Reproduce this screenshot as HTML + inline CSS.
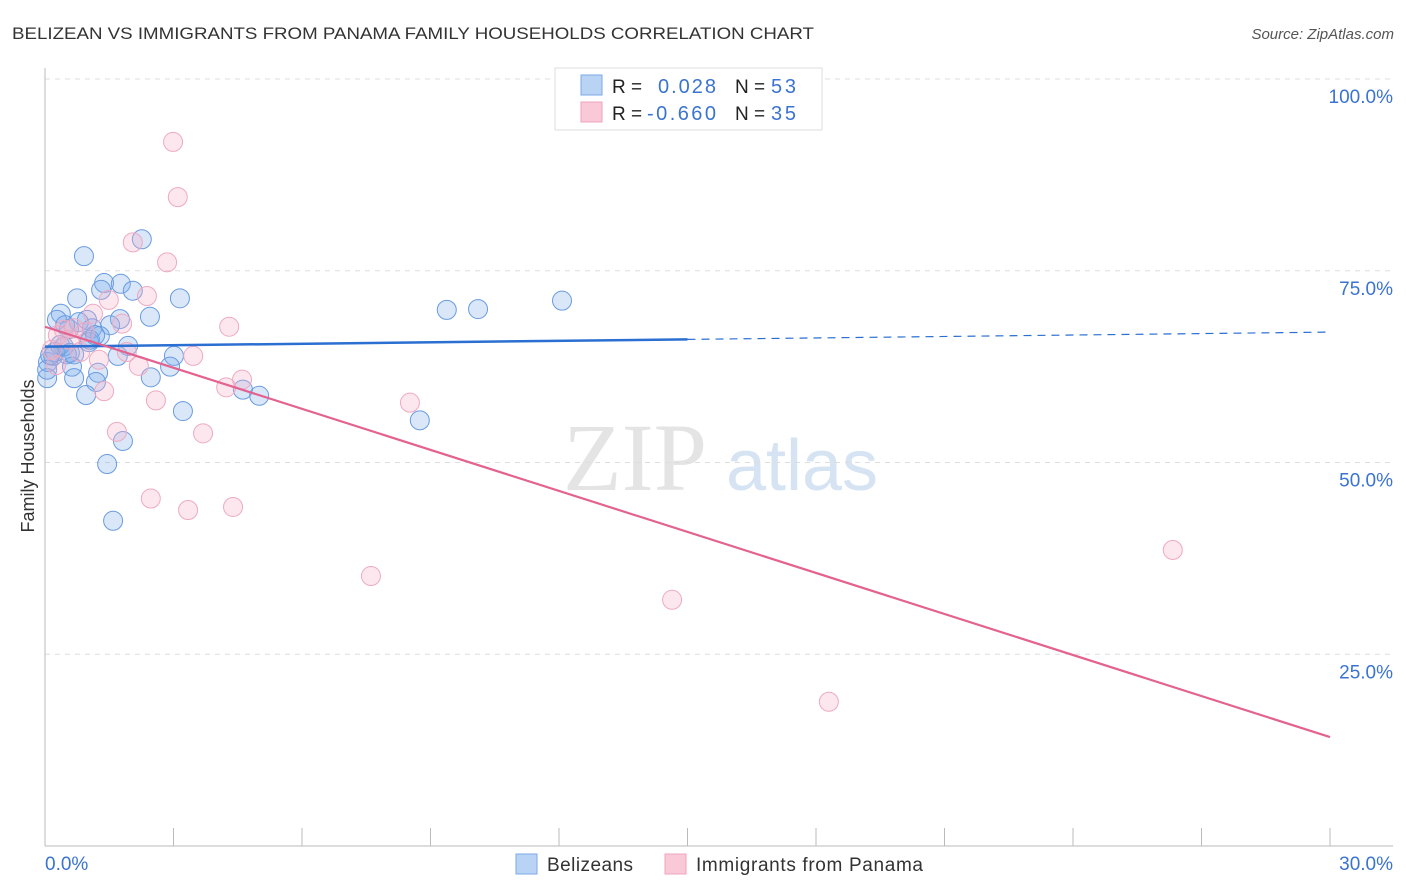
<!DOCTYPE html>
<html><head><meta charset="utf-8"><style>
body{margin:0;background:#fff;font-family:"Liberation Sans",sans-serif;}
svg{display:block}
</style></head><body>
<svg id="chart" width="1406" height="892" font-family="Liberation Sans, sans-serif">
<text x="12" y="39" font-size="17" fill="#333" textLength="802" lengthAdjust="spacingAndGlyphs">BELIZEAN VS IMMIGRANTS FROM PANAMA FAMILY HOUSEHOLDS CORRELATION CHART</text>
<text x="1394" y="39" font-size="15" fill="#555" font-style="italic" text-anchor="end">Source: ZipAtlas.com</text>
<g>
<text x="635" y="490" font-size="96" font-family="Liberation Serif, serif" fill="#e4e4e4" text-anchor="middle">ZIP</text>
<text x="802" y="490" font-size="72" fill="#d5e3f3" text-anchor="middle">atlas</text>
</g>
<g id="grid"></g>
<g id="axes"></g>
<g id="pts"></g>
<g id="lines"></g>
<text transform="translate(34,456) rotate(-90)" font-size="18" fill="#333" text-anchor="middle">Family Households</text>
<g>
<rect x="555" y="68" width="267" height="62" fill="#fff" stroke="#ddd"/>
<rect x="581" y="75" width="21" height="20" fill="#b9d3f5" stroke="#7aaae6"/>
<rect x="581" y="102" width="21" height="20" fill="#f9c9d8" stroke="#eea4bd"/>
<text x="612" y="93" font-size="19" fill="#222">R =</text>
<text x="658" y="93" font-size="20" fill="#3b73d1" textLength="58">0.028</text>
<text x="735" y="93" font-size="19" fill="#222">N =</text>
<text x="771" y="93" font-size="20" fill="#3b73d1" textLength="25">53</text>
<text x="612" y="120" font-size="19" fill="#222">R =</text>
<text x="647" y="120" font-size="20" fill="#3b73d1" textLength="69">-0.660</text>
<text x="735" y="120" font-size="19" fill="#222">N =</text>
<text x="771" y="120" font-size="20" fill="#3b73d1" textLength="25">35</text>
</g>
<g>
<rect x="516" y="854" width="21" height="20" fill="#b9d3f5" stroke="#7aaae6"/>
<text x="547" y="871" font-size="19" fill="#333" textLength="86">Belizeans</text>
<rect x="665" y="854" width="21" height="20" fill="#f9c9d8" stroke="#eea4bd"/>
<text x="696" y="871" font-size="19" fill="#333" textLength="227">Immigrants from Panama</text>
</g>
</svg>
<script>
const blueX=[0.91,2.26,1.38,1.77,1.31,2.05,0.75,3.15,0.37,2.45,0.28,0.98,1.75,1.52,0.79,1.10,1.28,1.03,1.94,0.44,0.68,0.51,1.70,3.01,0.19,0.07,2.92,0.63,1.24,2.47,0.68,1.19,0.05,0.96,4.62,5.00,3.22,1.82,1.45,1.59,9.38,10.11,12.07,8.75,0.23,0.35,0.56,0.58,0.05,0.12,0.47,1.05,1.17];
const blueY=[76.9,79.1,73.4,73.3,72.5,72.4,71.4,71.4,69.4,69.0,68.6,68.6,68.7,67.9,68.3,67.5,66.5,65.7,65.2,65.1,64.1,64.1,63.9,63.9,63.9,63.1,62.5,62.5,61.7,61.1,61.0,60.5,61.0,58.8,59.5,58.7,56.7,52.8,49.8,42.4,69.9,70.0,71.1,55.5,64.4,65.3,67.4,64.3,62.1,64.0,67.9,66.0,66.6];
const pinkX=[2.99,3.10,2.05,2.85,2.38,1.49,4.30,1.80,1.12,0.68,0.44,0.30,0.82,0.16,1.26,1.91,3.46,2.19,4.60,4.23,1.38,2.59,8.52,1.68,3.69,2.47,3.34,4.39,7.61,14.64,26.33,18.30,0.26,0.58,0.93];
const pinkY=[91.8,84.6,78.7,76.1,71.7,71.2,67.7,68.1,69.4,67.5,67.3,66.6,64.4,64.7,63.4,64.4,63.9,62.6,60.8,59.8,59.3,58.1,57.8,54.0,53.8,45.3,43.8,44.2,35.2,32.1,38.6,18.8,62.7,66.0,67.0];
const blueTrend=[65.1,67.0];
const pinkTrend=[67.7,14.2];
const yTicks=[25,50,75,100];
const xTickLabels=["0.0%","30.0%"];
const NS="http://www.w3.org/2000/svg";
const sx=v=>45+v/30*1285, sy=v=>846-v/100*767;
function mk(t,a,p){const e=document.createElementNS(NS,t);for(const k in a)e.setAttribute(k,a[k]);document.getElementById(p).appendChild(e);return e;}
yTicks.forEach(t=>{
 const l=mk('line',{x1:45,x2:1393,y1:sy(t),y2:sy(t),stroke:'#ddd','stroke-dasharray':'5,5'},'grid');
 
 
 const tx=mk('text',{x:1393,y:sy(t)+24,'font-size':19,fill:'#3b73d1','text-anchor':'end'},'grid');
 tx.textContent=t.toFixed(1)+'%';
 
 
});
let ax=mk('line',{x1:45,x2:45,y1:68,y2:846,stroke:'#bbb'},'axes');


ax=mk('line',{x1:45,x2:1393,y1:846,y2:846,stroke:'#bbb'},'axes');


for(let k=1;k<=10;k++){const t=mk('line',{x1:sx(k*3),x2:sx(k*3),y1:828,y2:846,stroke:'#bbb'},'axes');
 
 }
let xl=mk('text',{x:45,y:870,'font-size':19,fill:'#3b73d1'},'axes');xl.textContent=xTickLabels[0];


xl=mk('text',{x:1393,y:870,'font-size':19,fill:'#3b73d1','text-anchor':'end'},'axes');xl.textContent=xTickLabels[1];


blueX.forEach((x,i)=>{const c=mk('circle',{cx:sx(x),cy:sy(blueY[i]),r:9.5,fill:'rgba(130,175,235,0.3)',stroke:'#6a9be0','stroke-width':1},'pts');
 
 });
pinkX.forEach((x,i)=>{const c=mk('circle',{cx:sx(x),cy:sy(pinkY[i]),r:9.5,fill:'rgba(246,175,200,0.3)',stroke:'#eeaac2','stroke-width':1},'pts');
 
 });
const bAt=x=>blueTrend[0]+(blueTrend[1]-blueTrend[0])*x/30;
let tl=mk('line',{x1:sx(0),y1:sy(bAt(0)),x2:sx(15),y2:sy(bAt(15)),stroke:'#2a6fd1','stroke-width':2.5},'lines');


tl=mk('line',{x1:sx(15),y1:sy(bAt(15)),x2:sx(30),y2:sy(bAt(30)),stroke:'#2a6fd1','stroke-width':1.2,'stroke-dasharray':'8,6'},'lines');


tl=mk('line',{x1:sx(0),y1:sy(pinkTrend[0]),x2:sx(30),y2:sy(pinkTrend[1]),stroke:'#e4628f','stroke-width':2.2},'lines');


</script>
</body></html>
